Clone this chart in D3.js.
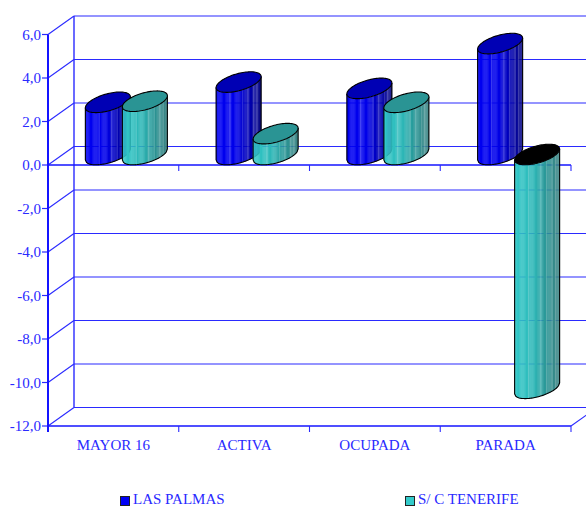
<!DOCTYPE html>
<html><head><meta charset="utf-8">
<script src="https://d3js.org/d3.v7.min.js"></script>
<style>html,body{margin:0;padding:0;background:#fff;overflow:hidden}svg{display:block}
text{font-family:"Liberation Serif",serif;fill:#2a2aff}</style></head>
<body><svg id="c" width="586" height="507"></svg>
<script>
const categories=["MAYOR 16","ACTIVA","OCUPADA","PARADA"];
const seriesNames=["LAS PALMAS","S/ C TENERIFE"];
const lasPalmas=[2.4,3.33,3.04,5.1];
const tenerife=[2.45,0.96,2.4,-10.75];
const tickValues=[6,4,2,0,-2,-4,-6,-8,-10,-12];
const sideStops=[0,.45,.7,1];
const blueRamp=["#0000f4","#0000ea","#0000b8","#0c0c84"];
const tealRamp=["#33caca","#2fb6b6","#2a9696","#3f8484"];
const capColors=["#0000b4","#2a9494"];
const capNegative="#000000";
const lightStripes=[.32,.6,.72,.84,.92];

const svg=d3.select("#c");
const W=586,H=507,dx=26,dy=-18.5;
const y=d3.scaleLinear().domain([-12,6]).range([426,34.5]);
const x=d3.scaleBand().domain(categories).range([48,571]);
const inner=d3.scalePoint().domain(seriesNames).range([-18.5,18.5]);
const grid="#2a2aff";
const g=svg.append("g");
const line=(x1,y1,x2,y2,w=1,c=grid)=>g.append("line").attr("x1",x1).attr("y1",y1).attr("x2",x2).attr("y2",y2).attr("stroke",c).attr("stroke-width",w);

tickValues.forEach(v=>{
  const yy=y(v);
  line(48,yy,48+dx,yy+dy,1.1);
  line(48+dx,yy+dy,W,yy+dy,1.2);
  line(42,yy,48,yy,1.2);
});
line(48+dx,y(6)+dy,48+dx,y(-12)+dy,1.4);
line(571,426,571+dx,426+dy,1.1);

[y(0),y(-12)].forEach(yy=>{
  line(48,yy,571,yy,1.5,"#1414ff");
  x.domain().forEach(c=>line(x(c)+x.bandwidth(),yy,x(c)+x.bandwidth(),yy+6,1.1));
  line(48,yy,48,yy+6,1.2);
});
line(48,y(6),48,y(-12)+6,2,"#1414ff");

g.selectAll(".yl").data(tickValues).join("text")
 .attr("x",41).attr("y",v=>y(v)+5).attr("text-anchor","end")
 .attr("font-size",15).text(v=>d3.format(".1f")(v).replace(".",",").replace("\u2212","-"));
g.selectAll(".xl").data(categories).join("text")
 .attr("x",c=>x(c)+x.bandwidth()/2).attr("y",450).attr("text-anchor","middle")
 .attr("font-size",15).text(c=>c);

const rx=22.5,sk=5.5,ry=8.7,depth=-10.5;
const pt=(cx,cy,t)=>{const c=Math.cos(t),s=Math.sin(t);return [cx+rx*c,cy-sk*c+ry*s];};
function cylinder(cat,si,val){
  const ramp=d3.scaleLinear().domain(sideStops).range(si?tealRamp:blueRamp);
  const cx=x(cat)+x.bandwidth()/2+inner(seriesNames[si])+dx/2;
  const yTop=y(Math.max(val,0))+depth, yBot=y(Math.min(val,0))+depth;
  const n=40, bar=g.append("g");
  const X=i=>cx-rx+2*rx*i/n;
  const lowY=(cyy,i)=>{const c=(X(i)-cx)/rx;return cyy-sk*c+ry*Math.sqrt(Math.max(0,1-c*c));};
  d3.range(n).forEach(i=>{
    const f=(i+.5)/n, light=lightStripes.some(s=>Math.abs(s-f)<.5/n);
    let col=d3.color(ramp(f));
    if(light) col=d3.interpolateRgb(col,"#ffffff")(.2);
    const path=d3.path();
    path.moveTo(X(i),lowY(yTop,i));
    path.lineTo(X(i+1),lowY(yTop,i+1));
    path.lineTo(X(i+1),lowY(yBot,i+1));
    path.lineTo(X(i),lowY(yBot,i));
    path.closePath();
    bar.append("path").attr("d",path).attr("fill",col).attr("stroke",col).attr("stroke-width",.3);
  });
  const out=d3.path();
  const [lx,ly]=pt(cx,yTop,Math.PI),[rxx,ryy]=pt(cx,yTop,0);
  out.moveTo(lx,ly);
  out.lineTo(lx,pt(cx,yBot,Math.PI)[1]);
  d3.range(n+1).forEach(i=>out.lineTo(X(i),lowY(yBot,i)));
  out.lineTo(rxx,ryy);
  bar.append("path").attr("d",out).attr("fill","none").attr("stroke","#000").attr("stroke-width",1.1);
  const capPts=d3.range(0,96).map(i=>pt(cx,yTop,i/96*2*Math.PI));
  bar.append("path").attr("d",d3.line().curve(d3.curveLinearClosed)(capPts))
    .attr("fill",val<0?capNegative:capColors[si]).attr("stroke","#000").attr("stroke-width",1.1);
}
categories.forEach((c,i)=>{cylinder(c,0,lasPalmas[i]);cylinder(c,1,tenerife[i]);});

const lx=[120.5,405.5], colors=[blueRamp[0],tealRamp[0]];
seriesNames.forEach((s,i)=>{
  g.append("rect").attr("x",lx[i]).attr("y",496.5).attr("width",9).attr("height",9)
   .attr("fill",colors[i]).attr("stroke","#222").attr("stroke-width",1);
  g.append("text").attr("x",lx[i]+12.5).attr("y",503.5).attr("font-size",15).text(s);
});
</script></body></html>
